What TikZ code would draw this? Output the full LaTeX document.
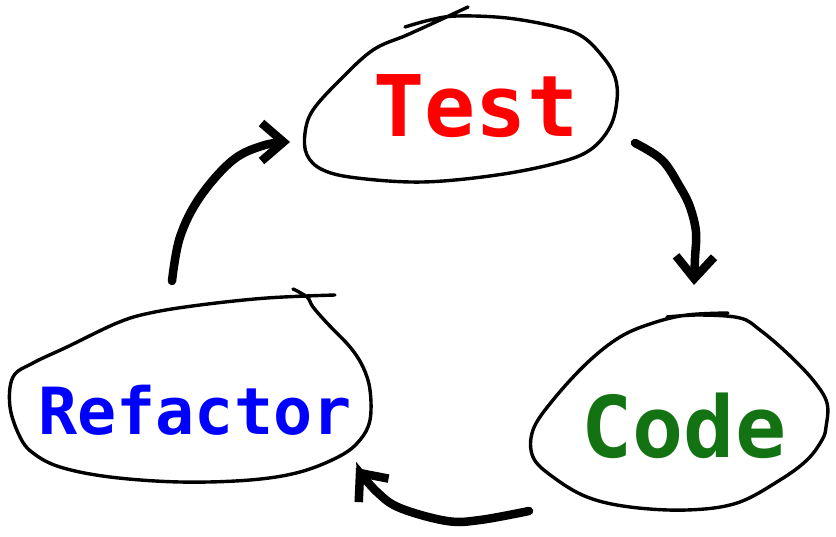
\documentclass[tikz,border=0pt]{standalone}
\usepackage{fontspec}
\usetikzlibrary{arrows.meta}
\newfontfamily\cyclefont{DejaVu Sans Mono}
\definecolor{cTest}{HTML}{FF0000}
\definecolor{cCode}{HTML}{137313}
\definecolor{cRefac}{HTML}{0000FF}

\begin{document}
\begin{tikzpicture}[
    x=1pt, y=-1pt,
    blob/.style={draw=black, line width=3.4pt, line cap=round, line join=round},
    flow/.style={draw=black, line width=8.5pt, line cap=round,
                 -{Straight Barb[length=22pt, width=38pt]}},
    word/.style={font=\cyclefont\bfseries, inner sep=0pt, anchor=base},
]
\useasboundingbox (0,0) rectangle (836,537);

% ===================== Etapas =====================
\node[word, text=cTest, font=\cyclefont\bfseries\fontsize{85}{90}\selectfont]
      (test) at (476,137) {Test};
\node[word, text=cCode, font=\cyclefont\bfseries\fontsize{85}{90}\selectfont]
      (code) at (684,457) {Code};
\node[word, text=cRefac, font=\cyclefont\bfseries\fontsize{65}{70}\selectfont]
      (refac) at (195,435) {Refactor};

% ===================== Contornos a mano =====================
\draw[blob] plot[smooth, tension=0.6] coordinates {
    (405,27) (430,20) (457,16) (507,18) (557,27) (583,37) (603,57) (615,77)
    (617,100) (610,127) (590,150) (557,163) (497,175) (423,182) (357,178)
    (323,170) (307,155) (305,133) (313,110) (340,80) (373,50) (407,35)
    (440,20) (468,7)};

\draw[blob] plot[smooth, tension=0.6] coordinates {
    (667,317) (700,315) (740,318) (760,330) (787,353) (813,380) (827,403)
    (826,427) (822,440) (807,460) (780,480) (737,503) (687,510) (630,507)
    (587,497) (553,477) (533,457) (533,430) (553,400) (587,363) (620,337)
    (653,323) (687,315) (728,313)};

\draw[blob] plot[smooth, tension=0.6] coordinates {
    (293,289) (307,297) (313,307) (327,323) (350,347) (363,367) (370,390)
    (370,420) (360,440) (340,456) (300,472) (250,480) (180,482) (110,477)
    (60,467) (33,453) (20,437) (10,407) (13,377) (33,363) (67,347) (117,323)
    (150,313) (200,305) (267,298) (335,295)};

% ===================== Ciclo =====================
\coordinate (r2t-s) at (172,281);
\coordinate (r2t-e) at (290,142);
\coordinate (t2c-s) at (635,143);
\coordinate (t2c-e) at (694,285);
\coordinate (c2r-s) at (529,511);
\coordinate (c2r-e) at (356,468);

\draw[flow] plot[smooth, tension=0.6] coordinates {
    (r2t-s) (180,237) (200,197) (233,160) (265,145) (r2t-e)};
\draw[flow] plot[smooth, tension=0.6] coordinates {
    (t2c-s) (662,160) (680,187) (690,207) (696,232) (695,258) (t2c-e)};
\draw[flow] plot[smooth, tension=0.6] coordinates {
    (c2r-s) (480,520) (447,521) (400,508) (377,492) (c2r-e)};

\end{tikzpicture}
\end{document}
